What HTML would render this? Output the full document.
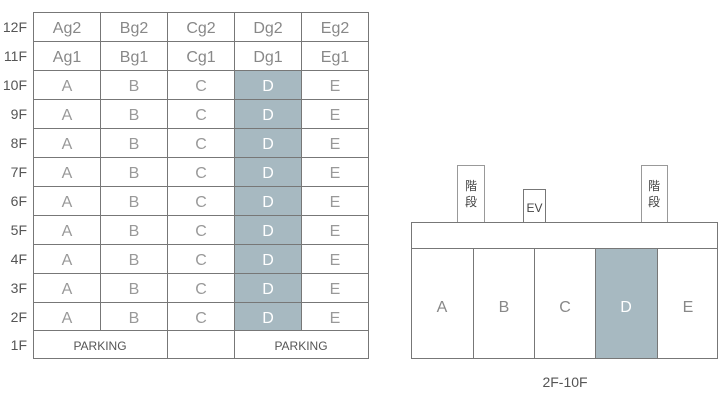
<!DOCTYPE html>
<html><head><meta charset="utf-8"><style>body{margin:0;background:#fff}svg{display:block}</style></head><body>
<svg width="720" height="400" xmlns="http://www.w3.org/2000/svg" font-family="Liberation Sans, Noto Sans CJK JP, sans-serif">
<g id="left">
<rect x="234" y="70" width="67" height="260" fill="#a7b9c1"/>
<g stroke="#777" stroke-width="1" fill="none">
<rect x="33.5" y="12.5" width="335" height="346"/>
<line x1="33" y1="41.5" x2="368" y2="41.5"/>
<line x1="33" y1="70.5" x2="368" y2="70.5"/>
<line x1="33" y1="99.5" x2="368" y2="99.5"/>
<line x1="33" y1="128.5" x2="368" y2="128.5"/>
<line x1="33" y1="157.5" x2="368" y2="157.5"/>
<line x1="33" y1="186.5" x2="368" y2="186.5"/>
<line x1="33" y1="215.5" x2="368" y2="215.5"/>
<line x1="33" y1="244.5" x2="368" y2="244.5"/>
<line x1="33" y1="273.5" x2="368" y2="273.5"/>
<line x1="33" y1="302.5" x2="368" y2="302.5"/>
<line x1="33" y1="330.5" x2="368" y2="330.5"/>
<line x1="100.5" y1="12" x2="100.5" y2="330"/>
<line x1="167.5" y1="12" x2="167.5" y2="358"/>
<line x1="234.5" y1="12" x2="234.5" y2="358"/>
<line x1="301.5" y1="12" x2="301.5" y2="330"/>
</g>
<g font-size="14" fill="#555" text-anchor="end">
<text x="27" y="32">12F</text><text x="27" y="61">11F</text><text x="27" y="90">10F</text>
<text x="27" y="119">9F</text><text x="27" y="148">8F</text><text x="27" y="177">7F</text>
<text x="27" y="206">6F</text><text x="27" y="235">5F</text><text x="27" y="264">4F</text>
<text x="27" y="293">3F</text><text x="27" y="322">2F</text><text x="27" y="350">1F</text>
</g>
<g font-size="16" fill="#888" text-anchor="middle">
<text x="67" y="33">Ag2</text><text x="134" y="33">Bg2</text><text x="201" y="33">Cg2</text><text x="268" y="33">Dg2</text><text x="335" y="33">Eg2</text>
<text x="67" y="62">Ag1</text><text x="134" y="62">Bg1</text><text x="201" y="62">Cg1</text><text x="268" y="62">Dg1</text><text x="335" y="62">Eg1</text>
</g>
<g font-size="16" fill="#999" text-anchor="middle">
<text x="67" y="91">A</text><text x="134" y="91">B</text><text x="201" y="91">C</text><text x="268" y="91" fill="#fff">D</text><text x="335" y="91">E</text>
<text x="67" y="120">A</text><text x="134" y="120">B</text><text x="201" y="120">C</text><text x="268" y="120" fill="#fff">D</text><text x="335" y="120">E</text>
<text x="67" y="149">A</text><text x="134" y="149">B</text><text x="201" y="149">C</text><text x="268" y="149" fill="#fff">D</text><text x="335" y="149">E</text>
<text x="67" y="178">A</text><text x="134" y="178">B</text><text x="201" y="178">C</text><text x="268" y="178" fill="#fff">D</text><text x="335" y="178">E</text>
<text x="67" y="207">A</text><text x="134" y="207">B</text><text x="201" y="207">C</text><text x="268" y="207" fill="#fff">D</text><text x="335" y="207">E</text>
<text x="67" y="236">A</text><text x="134" y="236">B</text><text x="201" y="236">C</text><text x="268" y="236" fill="#fff">D</text><text x="335" y="236">E</text>
<text x="67" y="265">A</text><text x="134" y="265">B</text><text x="201" y="265">C</text><text x="268" y="265" fill="#fff">D</text><text x="335" y="265">E</text>
<text x="67" y="294">A</text><text x="134" y="294">B</text><text x="201" y="294">C</text><text x="268" y="294" fill="#fff">D</text><text x="335" y="294">E</text>
<text x="67" y="323">A</text><text x="134" y="323">B</text><text x="201" y="323">C</text><text x="268" y="323" fill="#fff">D</text><text x="335" y="323">E</text>
</g>
<g font-size="12" fill="#555" text-anchor="middle">
<text x="100" y="350">PARKING</text><text x="301" y="350">PARKING</text>
</g>
</g>
<g id="right">
<rect x="595" y="248" width="62" height="110" fill="#a7b9c1"/>
<g stroke="#777" fill="none">
<rect x="457.5" y="165.5" width="27" height="57" stroke="#999"/>
<rect x="523.5" y="189.5" width="22" height="33"/>
<rect x="641.5" y="165.5" width="26" height="57" stroke="#999"/>
<rect x="411.5" y="222.5" width="306" height="26"/>
<rect x="411.5" y="248.5" width="306" height="110"/>
<line x1="473.5" y1="248" x2="473.5" y2="358"/>
<line x1="534.5" y1="248" x2="534.5" y2="358"/>
<line x1="595.5" y1="248" x2="595.5" y2="358"/>
<line x1="657.5" y1="248" x2="657.5" y2="358"/>
</g>
<g font-size="12" fill="#444" text-anchor="middle">
<text x="471" y="190">階</text><text x="471" y="206">段</text>
<text x="534.5" y="212">EV</text>
<text x="654" y="190">階</text><text x="654" y="206">段</text>
</g>
<g font-size="16" fill="#888" text-anchor="middle">
<text x="442" y="312">A</text><text x="504" y="312">B</text><text x="565" y="312">C</text><text x="626" y="312" fill="#fff">D</text><text x="688" y="312">E</text>
</g>
<text x="565" y="387" font-size="14" fill="#555" text-anchor="middle">2F-10F</text>
</g>
</svg>
</body></html>
